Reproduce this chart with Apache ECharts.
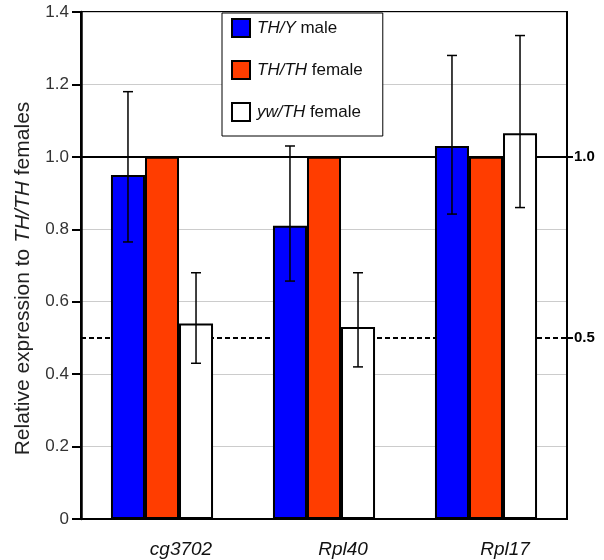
<!DOCTYPE html>
<html>
<head>
<meta charset="utf-8">
<script src="https://cdn.jsdelivr.net/npm/echarts@6/dist/echarts.min.js"></script>
<style>
  html, body { margin: 0; padding: 0; background: #fff; }
  #chart { width: 604px; height: 560px; }
</style>
</head>
<body>
<div id="chart"></div>
<script>
// values
const categories = ['cg3702', 'Rpl40', 'Rpl17']
const seriesNames = ['TH/Y male', 'TH/TH female', 'yw/TH female']
const maleValues = [0.95, 0.81, 1.03]
const femaleValues = [1.0, 1.0, 1.0]
const ywValues = [0.54, 0.53, 1.065]
const maleErrLow = [0.765, 0.657, 0.842]
const maleErrHigh = [1.18, 1.03, 1.28]
const ywErrLow = [0.43, 0.42, 0.86]
const ywErrHigh = [0.68, 0.68, 1.335]
const refLines = [1.0, 0.5]

const catGap = 0.37
const font = '"Liberation Sans", Arial, sans-serif'

// error bars: [category, low, high, slot in group]
const errData = []
categories.forEach((c, i) => {
  errData.push([i, maleErrLow[i], maleErrHigh[i], 0])
  errData.push([i, ywErrLow[i], ywErrHigh[i], 2])
})

function renderErr(params, api) {
  const cat = api.value(0)
  const slot = api.value(3)
  const band = api.size([1, 0])[0]
  const barW = band * (1 - catGap) / 3
  const x = api.coord([cat, 0])[0] + (slot - 1) * barW
  const yLo = api.coord([cat, api.value(1)])[1]
  const yHi = api.coord([cat, api.value(2)])[1]
  const cap = 5
  const style = { stroke: '#000', lineWidth: 1.5 }
  return {
    type: 'group',
    children: [
      { type: 'line', shape: { x1: x, y1: yLo, x2: x, y2: yHi }, style },
      { type: 'line', shape: { x1: x - cap, y1: yHi, x2: x + cap, y2: yHi }, style },
      { type: 'line', shape: { x1: x - cap, y1: yLo, x2: x + cap, y2: yLo }, style }
    ]
  }
}

function legendText(name) {
  const k = name.indexOf(' ')
  return '{i|' + name.slice(0, k) + '}{n|' + name.slice(k) + '}'
}

const chart = echarts.init(document.getElementById('chart'))

const barBase = {
  type: 'bar',
  barGap: '0%',
  barCategoryGap: (catGap * 100) + '%',
  z: 3
}

chart.setOption({
  animation: false,
  textStyle: { fontFamily: font },
  grid: {
    left: 81,
    right: 37,
    top: 12,
    bottom: 41,
    show: true,
    borderColor: '#000',
    borderWidth: 2
  },
  legend: {
    data: seriesNames,
    orient: 'vertical',
    left: 222,
    top: 13,
    padding: [5, 20, 14, 9],
    itemGap: 22,
    itemWidth: 18,
    itemHeight: 18,
    icon: 'rect',
    backgroundColor: '#fff',
    borderColor: '#000',
    borderWidth: 1,
    z: 8,
    formatter: legendText,
    textStyle: {
      fontSize: 17,
      color: '#111',
      padding: [0, 0, 0, 2],
      rich: {
        i: { fontSize: 17, fontStyle: 'italic', color: '#111', fontFamily: font },
        n: { fontSize: 17, color: '#111', fontFamily: font }
      }
    }
  },
  xAxis: {
    type: 'category',
    data: categories,
    axisLine: { lineStyle: { color: '#000', width: 2 } },
    axisTick: { length: 4, lineStyle: { color: '#bbb' } },
    axisLabel: {
      fontSize: 19,
      fontStyle: 'italic',
      color: '#111',
      margin: 21,
      padding: [0, 0, 0, 38]
    }
  },
  yAxis: [
    {
      type: 'value',
      min: 0,
      max: 1.4,
      interval: 0.2,
      name: '{n|Relative expression to }{i|TH/TH}{n| females}',
      nameLocation: 'middle',
      nameGap: 47,
      nameTextStyle: {
        padding: [0, 26, 0, 0],
        rich: {
          n: { fontSize: 21, color: '#222', fontFamily: font },
          i: { fontSize: 21, fontStyle: 'italic', color: '#222', fontFamily: font }
        }
      },
      axisLine: { show: true, lineStyle: { color: '#000', width: 2.5 } },
      axisTick: { show: true, length: 9, lineStyle: { color: '#000', width: 2 } },
      axisLabel: {
        fontSize: 17,
        color: '#333',
        margin: 12,
        formatter: v => (v === 0 ? '0' : v.toFixed(1))
      },
      splitLine: { lineStyle: { color: '#ccc', width: 1 } }
    },
    {
      type: 'value',
      position: 'right',
      min: 0,
      max: 1.4,
      axisLine: { show: true, lineStyle: { color: '#000', width: 2 } },
      axisTick: { show: true, length: 6, customValues: refLines, lineStyle: { color: '#000', width: 2 } },
      axisLabel: {
        customValues: refLines,
        fontSize: 15,
        fontWeight: 'bold',
        color: '#000',
        margin: 7,
        formatter: v => v.toFixed(1)
      },
      splitLine: { show: false }
    }
  ],
  series: [
    {
      type: 'line',
      data: [],
      z: 1,
      silent: true,
      markLine: {
        z: 1,
        symbol: 'none',
        silent: true,
        label: { show: false },
        data: [
          { yAxis: refLines[0], lineStyle: { color: '#000', width: 2, type: 'solid' } },
          { yAxis: refLines[1], lineStyle: { color: '#000', width: 2, type: [5, 3] } }
        ]
      }
    },
    Object.assign({}, barBase, {
      name: seriesNames[0],
      data: maleValues,
      itemStyle: { color: '#0000ff', borderColor: '#000', borderWidth: 2 }
    }),
    Object.assign({}, barBase, {
      name: seriesNames[1],
      data: femaleValues,
      itemStyle: { color: '#ff3d00', borderColor: '#000', borderWidth: 2 }
    }),
    Object.assign({}, barBase, {
      name: seriesNames[2],
      data: ywValues,
      itemStyle: { color: '#ffffff', borderColor: '#000', borderWidth: 2 }
    }),
    {
      type: 'custom',
      renderItem: renderErr,
      data: errData,
      encode: { x: 0, y: [1, 2] },
      z: 4,
      silent: true
    }
  ]
})
</script>
</body>
</html>
